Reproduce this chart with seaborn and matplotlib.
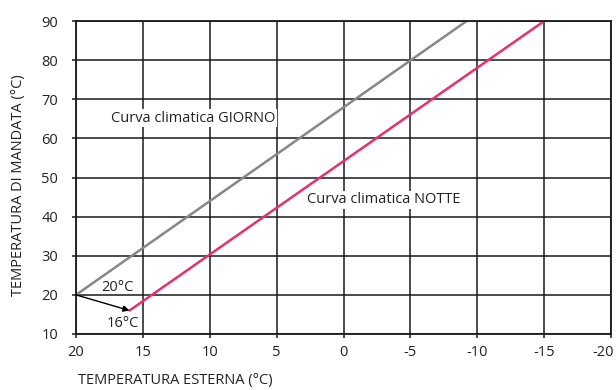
import matplotlib
matplotlib.use("Agg")
import matplotlib.pyplot as plt
import matplotlib.transforms as mtransforms
import seaborn as sns
import pandas as pd

# dati
giorno_x = [20, -9.2]
giorno_y = [20, 90]
notte_x = [16, -15]
notte_y = [16, 90]
x_ticks = [20, 15, 10, 5, 0, -5, -10, -15, -20]
y_ticks = [10, 20, 30, 40, 50, 60, 70, 80, 90]

sns.set_theme(style="white")
plt.rcParams["font.family"] = ["Open Sans", "DejaVu Sans"]

fig = plt.figure(figsize=(6.16, 3.90), dpi=100)
ax = fig.add_axes([0.1234, 0.1436, 0.8686, 0.8024])

df_g = pd.DataFrame({"x": giorno_x, "y": giorno_y})
df_n = pd.DataFrame({"x": notte_x, "y": notte_y})
sns.lineplot(data=df_g, x="x", y="y", ax=ax, color="#878787", lw=1.8, sort=False)
sns.lineplot(data=df_n, x="x", y="y", ax=ax, color="#e8306f", lw=1.8, sort=False)

ax.set_xlim(20, -20)
ax.set_ylim(10, 90)
ax.set_xticks(x_ticks)
ax.set_yticks(y_ticks)
ax.set_xticklabels([str(v) for v in x_ticks])
ax.grid(True, color="#1a1a1a", lw=1.1)
ax.set_axisbelow(True)
for s in ax.spines.values():
    s.set_color("#1a1a1a")
    s.set_linewidth(1.3)
ax.tick_params(axis="both", direction="out", length=3, width=1.1, color="#1a1a1a",
               labelsize=10.5, labelcolor="#222222")
ax.tick_params(axis="x", pad=5)
ax.tick_params(axis="y", pad=10)
ax.tick_params(left=True, bottom=True)

# l'ultima etichetta "-20" allineata a destra per non uscire dal bordo
last = ax.get_xticklabels()[-1]
last.set_ha("right")
last.set_transform(last.get_transform() + mtransforms.ScaledTranslation(0.03, 0, fig.dpi_scale_trans))

ax.set_xlabel("TEMPERATURA ESTERNA (°C)", fontsize=10.5, color="#222222", va="center")
ax.set_ylabel("TEMPERATURA DI MANDATA (°C)", fontsize=10.5, color="#222222", va="center")
ax.xaxis.set_label_coords(0.185, -0.15)
ax.yaxis.set_label_coords(-0.107, 0.475)

box = dict(facecolor="white", edgecolor="none", pad=1)
ax.text(17.4, 65.2, "Curva climatica GIORNO", fontsize=10.5, color="#222222",
        va="center", ha="left", bbox=box, zorder=3)
ax.text(2.7, 44.3, "Curva climatica NOTTE", fontsize=10.5, color="#222222",
        va="center", ha="left", bbox=box, zorder=3)
ax.text(18.1, 21.8, "20°C", fontsize=10.5, color="#222222", va="center", ha="left")
ax.text(17.7, 12.8, "16°C", fontsize=10.5, color="#222222", va="center", ha="left")
ax.annotate("", xy=(16, 16), xytext=(20, 20),
            arrowprops=dict(arrowstyle="-|>", color="black", lw=1.0,
                            mutation_scale=9, shrinkA=0, shrinkB=0))

fig.savefig("out.png", dpi=100)
